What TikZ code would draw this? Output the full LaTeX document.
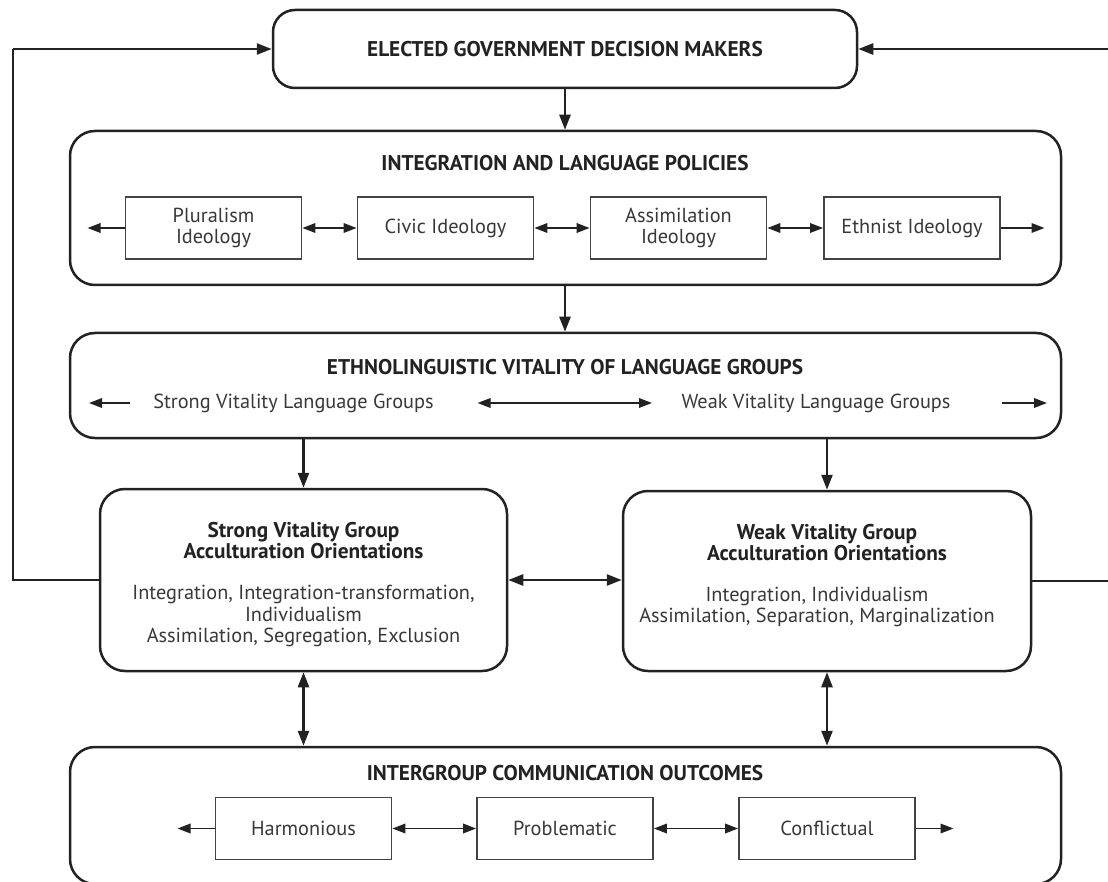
\documentclass[tikz,border=0pt]{standalone}
\usepackage{fontspec}
\setmainfont{PT Sans}
\usetikzlibrary{arrows.meta}
\definecolor{ink}{HTML}{222222}
\definecolor{txt}{HTML}{383838}
\begin{document}
\begin{tikzpicture}[x=1pt,y=-1pt,
  bigbox/.style={draw=ink, line width=2.5pt, rounded corners=25pt, inner sep=0pt},
  smallbox/.style={draw=ink!85, line width=1.8pt, inner sep=0pt, minimum width=176pt, minimum height=62pt,
     font=\fontsize{20.3}{21.5}\selectfont, text=txt, align=center},
  ttl/.style={font=\bfseries\fontsize{21.3}{21.5}\selectfont, text=ink, inner sep=0pt},
  bodytxt/.style={font=\fontsize{20.3}{21.3}\selectfont, text=txt, align=center, inner sep=0pt},
  arr/.style={draw=ink, line width=2.5pt, -{Triangle[length=15pt,width=11pt]}},
  darr/.style={draw=ink, line width=2.5pt, {Triangle[length=15pt,width=11pt]}-{Triangle[length=15pt,width=11pt]}},
  sarr/.style={draw=ink, line width=1.8pt, -{Triangle[length=13pt,width=9.5pt]}},
  sdarr/.style={draw=ink, line width=1.8pt, {Triangle[length=13pt,width=9.5pt]}-{Triangle[length=13pt,width=9.5pt]}},
  fb/.style={draw=ink, line width=2.5pt}
]
\useasboundingbox (0,0) rectangle (1108,882);
\fill[white] (0,0) rectangle (1108,882);

% top box
\node[bigbox, rounded corners=22pt, minimum width=584pt, minimum height=78pt] (gov) at (565,49) {};
\node[ttl] (govt) at (565,49) {ELECTED GOVERNMENT DECISION MAKERS};

% policies
\node[bigbox, minimum width=991pt, minimum height=154pt] (pol) at (565.5,208) {};
\node[ttl] (polt) at (565,163) {INTEGRATION AND LANGUAGE POLICIES};
\node[smallbox] (plu) at (213.5,228) {Pluralism\\Ideology};
\node[smallbox] (civ) at (445.5,228) {Civic Ideology};
\node[smallbox] (ass) at (678.5,228) {Assimilation\\Ideology};
\node[smallbox] (eth) at (912,228) {Ethnist Ideology};
\coordinate (polL) at (87.5,228);
\coordinate (polR) at (1044.5,228);
\draw[sarr] (plu) -- (polL);
\draw[sdarr] (plu) -- (civ);
\draw[sdarr] (civ) -- (ass);
\draw[sdarr] (ass) -- (eth);
\draw[sarr] (eth) -- (polR);

% vitality
\node[bigbox, minimum width=991pt, minimum height=105pt] (vit) at (565.5,385.5) {};
\node[ttl] (vitt) at (565,367) {ETHNOLINGUISTIC VITALITY OF LANGUAGE GROUPS};
\node[bodytxt] (svg) at (293.5,403) {Strong Vitality Language Groups};
\node[bodytxt] (wvg) at (816,403) {Weak Vitality Language Groups};
\coordinate (vL1) at (130,403);
\coordinate (vL2) at (89,403);
\coordinate (vM1) at (477.5,403);
\coordinate (vM2) at (652,403);
\coordinate (vR1) at (1002,403);
\coordinate (vR2) at (1047,403);
\draw[sarr] (vL1) -- (vL2);
\draw[sdarr] (vM1) -- (vM2);
\draw[sarr] (vR1) -- (vR2);

% strong and weak boxes
\node[bigbox, minimum width=407pt, minimum height=182pt] (str) at (303.5,580) {};
\node[ttl, align=center] (strt) at (303.5,540.5) {Strong Vitality Group\\Acculturation Orientations};
\node[bodytxt] (strb) at (303.5,616) {Integration, Integration-transformation,\\Individualism\\Assimilation, Segregation, Exclusion};
\node[bigbox, minimum width=408pt, minimum height=180pt] (wk) at (827,581) {};
\node[ttl, align=center] (wkt) at (827,542.5) {Weak Vitality Group\\Acculturation Orientations};
\node[bodytxt] (wkb) at (817,607) {Integration, Individualism\\Assimilation, Separation, Marginalization};

% outcomes
\node[bigbox, minimum width=991pt, minimum height=137pt] (out) at (565.5,815.5) {};
\node[ttl] (outt) at (565,773) {INTERGROUP COMMUNICATION OUTCOMES};
\node[smallbox] (har) at (303.5,828.5) {Harmonious};
\node[smallbox] (pro) at (565,828.5) {Problematic};
\node[smallbox] (con) at (827,828.5) {Conflictual};
\coordinate (oL) at (177.5,828.5);
\coordinate (oR) at (953.5,828.5);
\draw[sarr] (har) -- (oL);
\draw[sdarr] (har) -- (pro);
\draw[sdarr] (pro) -- (con);
\draw[sarr] (con) -- (oR);

% vertical connectors
\draw[arr] (gov.south -| 565,0) -- (pol.north -| 565,0);
\draw[arr] (pol.south -| 565,0) -- (vit.north -| 565,0);
\draw[arr] (vit.south -| str.north) -- (str.north);
\draw[arr] (vit.south -| wk.north) -- (wk.north);
\draw[darr] (str.south) -- (out.north -| str.south);
\draw[darr] (wk.south) -- (out.north -| wk.south);
\draw[darr] (str.east) -- (wk.west |- str.east);

% feedback loops
\coordinate (fbL1) at (13,580);
\coordinate (fbL2) at (13,49);
\coordinate (fbR1) at (1112,581);
\coordinate (fbR2) at (1112,49);
\draw[fb] (str.west) -- (fbL1) -- (fbL2);
\draw[arr] (fbL2) -- (gov.west);
\draw[fb] (wk.east |- 0,581) -- (fbR1) -- (fbR2);
\draw[arr] (fbR2) -- (gov.east);
\end{tikzpicture}
\end{document}
